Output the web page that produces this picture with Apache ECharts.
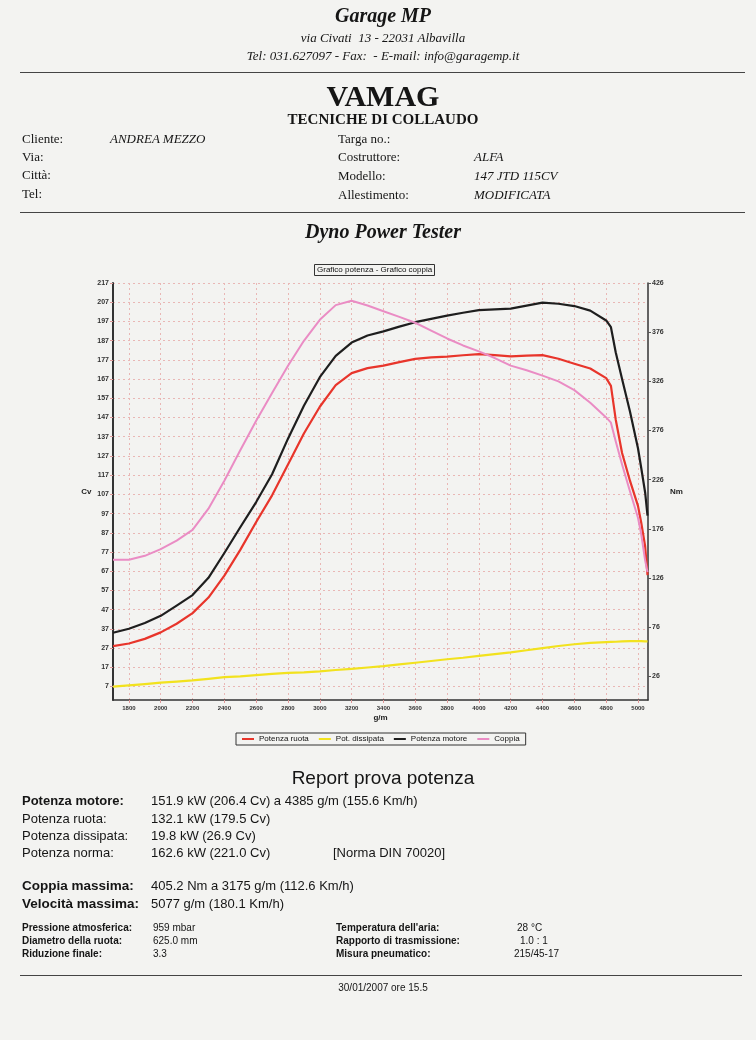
<!DOCTYPE html>
<html><head><meta charset="utf-8">
<script src="https://cdn.jsdelivr.net/npm/echarts@6/dist/echarts.min.js"></script>
<style>
html,body{margin:0;padding:0;background:#f3f3f1;}
#page{position:relative;width:756px;height:1040px;overflow:hidden;background:#f3f3f1;}
#chart{position:absolute;left:0;top:0;width:756px;height:1040px;}
.t{position:absolute;white-space:nowrap;line-height:1;color:#151515;}
.serif{font-family:"Liberation Serif","DejaVu Serif",serif;}
.sans{font-family:"Liberation Sans Narrow","Liberation Sans",sans-serif;}
.c{left:0;width:766px;text-align:center;}
.hr{position:absolute;height:1px;background:#444;}
.i{font-style:italic;}
.b{font-weight:bold;}
</style></head><body><div id="page">
<div id="chart"></div>

<div class="t serif c b i" style="top:5px;font-size:20px;">Garage MP</div>
<div class="t serif c i" style="top:31px;font-size:13px;">via Civati&nbsp; 13 - 22031 Albavilla</div>
<div class="t serif c i" style="top:49px;font-size:13px;">Tel: 031.627097 - Fax:&nbsp; - E-mail: info@garagemp.it</div>
<div class="hr" style="top:72px;left:20px;width:725px;"></div>
<div class="t serif c b" style="top:81px;font-size:30px;">VAMAG</div>
<div class="t serif c b" style="top:112px;font-size:15px;">TECNICHE DI COLLAUDO</div>

<div class="t serif" style="left:22px;top:132px;font-size:13px;">Cliente:</div>
<div class="t serif i" style="left:110px;top:132px;font-size:13px;">ANDREA MEZZO</div>
<div class="t serif" style="left:22px;top:150px;font-size:13px;">Via:</div>
<div class="t serif" style="left:22px;top:168px;font-size:13px;">Città:</div>
<div class="t serif" style="left:22px;top:187px;font-size:13px;">Tel:</div>
<div class="t serif" style="left:338px;top:132px;font-size:13px;">Targa no.:</div>
<div class="t serif" style="left:338px;top:150px;font-size:13px;">Costruttore:</div>
<div class="t serif i" style="left:474px;top:150px;font-size:13px;">ALFA</div>
<div class="t serif" style="left:338px;top:169px;font-size:13px;">Modello:</div>
<div class="t serif i" style="left:474px;top:169px;font-size:13px;">147 JTD 115CV</div>
<div class="t serif" style="left:338px;top:188px;font-size:13px;">Allestimento:</div>
<div class="t serif i" style="left:474px;top:188px;font-size:13px;">MODIFICATA</div>
<div class="hr" style="top:212px;left:20px;width:725px;"></div>
<div class="t serif c b i" style="top:221px;font-size:20px;">Dyno Power Tester</div>

<div class="t sans c" style="top:768px;font-size:19px;">Report prova potenza</div>
<div class="t sans b" style="left:22px;top:794px;font-size:13px;">Potenza motore:</div>
<div class="t sans" style="left:151px;top:794px;font-size:13px;">151.9 kW (206.4 Cv) a 4385 g/m (155.6 Km/h)</div>
<div class="t sans" style="left:22px;top:812px;font-size:13px;">Potenza ruota:</div>
<div class="t sans" style="left:151px;top:812px;font-size:13px;">132.1 kW (179.5 Cv)</div>
<div class="t sans" style="left:22px;top:829px;font-size:13px;">Potenza dissipata:</div>
<div class="t sans" style="left:151px;top:829px;font-size:13px;">19.8 kW (26.9 Cv)</div>
<div class="t sans" style="left:22px;top:846px;font-size:13px;">Potenza norma:</div>
<div class="t sans" style="left:151px;top:846px;font-size:13px;">162.6 kW (221.0 Cv)</div>
<div class="t sans" style="left:333px;top:846px;font-size:13px;">[Norma DIN 70020]</div>
<div class="t sans b" style="left:22px;top:879px;font-size:13.5px;">Coppia massima:</div>
<div class="t sans" style="left:151px;top:879px;font-size:13px;">405.2 Nm a 3175 g/m (112.6 Km/h)</div>
<div class="t sans b" style="left:22px;top:897px;font-size:13.5px;">Velocità massima:</div>
<div class="t sans" style="left:151px;top:897px;font-size:13px;">5077 g/m (180.1 Km/h)</div>

<div class="t sans b" style="left:22px;top:923px;font-size:10px;">Pressione atmosferica:</div>
<div class="t sans" style="left:153px;top:923px;font-size:10px;">959 mbar</div>
<div class="t sans b" style="left:22px;top:936px;font-size:10px;">Diametro della ruota:</div>
<div class="t sans" style="left:153px;top:936px;font-size:10px;">625.0 mm</div>
<div class="t sans b" style="left:22px;top:949px;font-size:10px;">Riduzione finale:</div>
<div class="t sans" style="left:153px;top:949px;font-size:10px;">3.3</div>
<div class="t sans b" style="left:336px;top:923px;font-size:10px;">Temperatura dell'aria:</div>
<div class="t sans" style="left:517px;top:923px;font-size:10px;">28 °C</div>
<div class="t sans b" style="left:336px;top:936px;font-size:10px;">Rapporto di trasmissione:</div>
<div class="t sans" style="left:520px;top:936px;font-size:10px;">1.0 : 1</div>
<div class="t sans b" style="left:336px;top:949px;font-size:10px;">Misura pneumatico:</div>
<div class="t sans" style="left:514px;top:949px;font-size:10px;">215/45-17</div>
<div class="hr" style="top:975px;left:20px;width:722px;"></div>
<div class="t sans c" style="top:983px;font-size:10px;">30/01/2007 ore 15.5</div>
</div>
<script>
// ---- data (read from the dyno sheet) ----
const rpm = [1700,1800,1900,2000,2100,2200,2300,2400,2500,2600,2700,2800,2900,3000,3100,3200,3300,3400,3500,3600,3700,3800,3900,4000,4100,4200,4300,4400,4500,4600,4700,4800,4830,4860,4900,4950,5000,5020,5045,5060];
const potenzaRuota = [28.0,29.4,31.8,35.2,39.7,45.2,53.3,64.7,78.1,92.6,106.5,122.5,138.7,152.6,163.9,170.1,172.7,174.0,175.8,177.5,178.3,178.7,179.4,180.0,179.5,178.8,179.2,179.5,177.6,175.0,172.5,167.5,163.5,146.0,128.5,114.0,101.0,92.5,80.0,65.0];
const potDissipata = [7.0,7.6,8.3,9.0,9.6,10.2,11.0,11.9,12.3,12.9,13.6,14.1,14.4,14.9,15.6,16.2,16.9,17.6,18.5,19.4,20.3,21.2,22.0,23.0,23.9,24.8,25.9,27.0,28.1,29.0,29.7,30.1,30.2,30.3,30.5,30.6,30.6,30.6,30.5,30.5];
const potenzaMotore = [35.0,37.1,40.1,43.8,49.1,54.6,63.6,76.5,89.9,103.0,117.5,136.0,153.1,168.0,179.1,186.0,189.7,191.8,194.3,196.6,198.3,200.0,201.5,202.9,203.3,203.7,205.2,206.8,206.2,205.0,202.6,197.5,194.0,181.0,167.0,150.0,131.0,121.0,108.0,96.0];
const coppia = [144.6,144.6,148.6,155.4,164.1,174.9,196.5,225.0,255.9,286.0,314.2,341.8,367.2,388.6,403.5,408.0,403.1,397.3,391.6,385.6,377.5,369.6,362.5,356.5,349.7,342.0,337.3,331.8,326.0,317.1,304.2,289.3,284.0,265.0,241.4,214.0,187.3,171.0,144.0,132.0];
const cvTicks = [7,17,27,37,47,57,67,77,87,97,107,117,127,137,147,157,167,177,187,197,207,217];
const nmTicks = [26,76,126,176,226,276,326,376,426];
const rpmTicks = [1800,2000,2200,2400,2600,2800,3000,3200,3400,3600,3800,4000,4200,4400,4600,4800,5000];
const seriesNames = ['Potenza ruota','Pot. dissipata','Potenza motore','Coppia'];
const seriesColors = ['#e8352b','#f2e21e','#1e1e1e','#ea8cc4'];

const pairs = v => rpm.map((r,i)=>[r,v[i]]);
const gridLine = {show:true,lineStyle:{color:'#e9b7b5',type:[2,3],width:1}};
const lbl = (vals)=>({customValues:vals,fontSize:7,fontWeight:'bold',color:'#333',fontFamily:'Liberation Sans',formatter:v=>String(v)});
const mkSeries = (i,vals,axis,w)=>({name:seriesNames[i],type:'line',data:pairs(vals),yAxisIndex:axis,showSymbol:false,
  smooth:false,lineStyle:{width:w,color:seriesColors[i],join:'round'},itemStyle:{color:seriesColors[i]}});

const chart = echarts.init(document.getElementById('chart'),null,{renderer:'canvas'});
chart.setOption({
  animation:false,
  backgroundColor:'transparent',
  title:{text:'Grafico potenza - Grafico coppia',left:314,top:264,padding:[2,3],borderWidth:1,borderColor:'#333',
    textStyle:{fontSize:8,fontWeight:'normal',color:'#111',fontFamily:'Liberation Sans'}},
  legend:{data:seriesNames,left:236,top:733,icon:'rect',itemWidth:12,itemHeight:2,itemGap:10,
    borderWidth:1,borderColor:'#333',padding:[2,6],
    textStyle:{fontSize:8,color:'#111',fontFamily:'Liberation Sans'}},
  grid:{left:113,top:283,width:535,height:417,containLabel:false},
  xAxis:{type:'value',min:1700,max:5063,
    name:'g/m',nameLocation:'middle',nameGap:14,nameTextStyle:{fontSize:8,fontWeight:'bold',color:'#222',fontFamily:'Liberation Sans'},
    axisLine:{lineStyle:{color:'#333',width:1.5}},
    axisTick:{customValues:rpmTicks,length:3,lineStyle:{color:'#d99'}},
    axisLabel:Object.assign(lbl(rpmTicks),{fontSize:6,margin:5}),
    splitLine:gridLine},
  yAxis:[
    {type:'value',min:0,max:217,position:'left',
      name:'Cv',nameLocation:'middle',nameRotate:0,nameGap:17,nameTextStyle:{fontSize:8,fontWeight:'bold',color:'#222',fontFamily:'Liberation Sans'},
      axisLine:{show:true,lineStyle:{color:'#333',width:2}},
      axisTick:{show:true,customValues:cvTicks,length:3,lineStyle:{color:'#d99'}},
      axisLabel:Object.assign(lbl(cvTicks),{margin:4}),
      splitLine:gridLine},
    {type:'value',min:2,max:426,position:'right',
      name:'Nm',nameLocation:'middle',nameRotate:0,nameGap:22,nameTextStyle:{fontSize:8,fontWeight:'bold',color:'#222',fontFamily:'Liberation Sans'},
      axisLine:{show:true,lineStyle:{color:'#333',width:1.5}},
      axisTick:{show:true,customValues:nmTicks,length:3,lineStyle:{color:'#555'}},
      axisLabel:Object.assign(lbl(nmTicks),{margin:4}),
      splitLine:{show:false}}
  ],
  series:[
    mkSeries(0,potenzaRuota,0,2.2),
    mkSeries(1,potDissipata,0,2.2),
    mkSeries(2,potenzaMotore,0,2.2),
    mkSeries(3,coppia,1,2)
  ]
});
</script>
</body></html>
